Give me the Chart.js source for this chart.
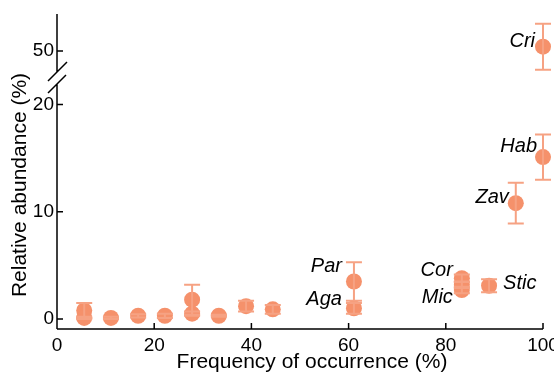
<!DOCTYPE html>
<html>
<head>
<meta charset="utf-8">
<script src="https://cdn.jsdelivr.net/npm/chart.js@4.4.1/dist/chart.umd.min.js"></script>
<style>
  html, body { margin: 0; padding: 0; background: #fff; }
  #wrap { width: 554px; height: 373px; }
</style>
</head>
<body>
<div id="wrap"><canvas id="chartCanvas"></canvas></div>
<script>
// Frequency of occurrence (%) and relative abundance (%) of each taxon
const frequency    = [5.6, 5.6, 11.1, 16.7, 22.2, 27.8, 27.8, 33.3, 38.9, 44.4, 61.1, 61.1, 83.3, 83.3, 83.3, 88.9, 94.4, 100];
const abundance    = [0.8, 0.1, 0.1, 0.3, 0.3, 1.8, 0.5, 0.3, 1.2, 0.9, 3.5, 1.0, 3.8, 3.2, 2.7, 3.1, 10.8, 15.1];
const abundanceErr = [0.7, 0.1, 0.1, 0.15, 0.2, 1.4, 0.2, 0.1, 0.5, 0.4, 1.8, 0.5, 0.35, 0.3, 0.3, 0.6, 1.9, 2.1];
const taxonNames   = ['', '', '', '', '', '', '', '', '', '', 'Par', 'Aga', 'Cor', '', 'Mic', 'Stic', 'Zav', 'Hab'];

// taxa above the axis break
const highFrequency = [100];
const highAbundance = [50.4];
const highErr       = [2.15];
const highNames     = ['Cri'];

const xTicks     = [0, 20, 40, 60, 80, 100];
const yTicksLow  = [0, 10, 20];
const yTicksHigh = [50];

const pointColor = '#f5916b';
const errColor = '#f6a283';
const tickFont = { family: "'Liberation Sans', Arial, sans-serif", size: 19 };

// where each label sits relative to its point
const labelPlace = {
  Par:  { dx: -12, dy: -9,  align: 'right' },
  Aga:  { dx: -12, dy: -3,  align: 'right' },
  Cor:  { dx: -9,  dy: -2,  align: 'right' },
  Mic:  { dx: -9,  dy: 13,  align: 'right' },
  Stic: { dx: 14,  dy: 3,   align: 'left' },
  Zav:  { dx: -7,  dy: 0,   align: 'right' },
  Hab:  { dx: -6,  dy: -5,  align: 'right' },
  Cri:  { dx: -8,  dy: 0,   align: 'right' }
};

function toPoints(xs, ys) {
  return xs.map((x, i) => ({ x: x, y: ys[i] }));
}

// error bars and taxon labels
const errorBars = {
  id: 'errorBars',
  afterDatasetsDraw(chart) {
    const ctx = chart.ctx;
    chart.data.datasets.forEach((ds, di) => {
      const meta = chart.getDatasetMeta(di);
      const yScale = chart.scales[ds.yAxisID];
      ctx.save();
      ctx.strokeStyle = errColor;
      ctx.lineWidth = 2;
      meta.data.forEach((el, i) => {
        const v = ds.data[i].y;
        const e = ds.errors[i];
        const top = yScale.getPixelForValue(v + e);
        const bot = yScale.getPixelForValue(v - e);
        ctx.beginPath();
        ctx.moveTo(el.x, top); ctx.lineTo(el.x, bot);
        ctx.moveTo(el.x - 8, top); ctx.lineTo(el.x + 8, top);
        ctx.moveTo(el.x - 8, bot); ctx.lineTo(el.x + 8, bot);
        ctx.stroke();
      });
      ctx.fillStyle = '#000';
      ctx.font = "italic 20px 'Liberation Sans', Arial, sans-serif";
      ctx.textBaseline = 'alphabetic';
      meta.data.forEach((el, i) => {
        const name = ds.names[i];
        if (!name) return;
        const p = labelPlace[name];
        ctx.textAlign = p.align;
        ctx.fillText(name, el.x + p.dx, el.y + p.dy);
      });
      ctx.restore();
    });
  }
};

// axis lines with the break, inward ticks and axis titles
const brokenAxes = {
  id: 'brokenAxes',
  afterDraw(chart) {
    const ctx = chart.ctx;
    const area = chart.chartArea;
    const L = area.left;
    const B = chart.scales.y2.bottom;
    ctx.save();
    ctx.strokeStyle = '#000';
    ctx.lineWidth = 1.5;
    ctx.beginPath();
    ctx.moveTo(L, area.top); ctx.lineTo(L, B - 6);
    ctx.moveTo(L, B + 6); ctx.lineTo(L, area.bottom);
    ctx.moveTo(L, area.bottom); ctx.lineTo(area.right, area.bottom);
    // break marks
    ctx.moveTo(L - 9, B + 3); ctx.lineTo(L + 10, B - 16);
    ctx.moveTo(L - 9, B + 15); ctx.lineTo(L + 9, B - 3);
    // ticks
    chart.scales.x.ticks.forEach(t => {
      const px = chart.scales.x.getPixelForValue(t.value);
      ctx.moveTo(px, area.bottom); ctx.lineTo(px, area.bottom - 6);
    });
    ['y', 'y2'].forEach(id => {
      chart.scales[id].ticks.forEach(t => {
        const py = chart.scales[id].getPixelForValue(t.value);
        ctx.moveTo(L, py); ctx.lineTo(L + 6, py);
      });
    });
    ctx.stroke();

    ctx.fillStyle = '#000';
    ctx.font = "21px 'Liberation Sans', Arial, sans-serif";
    ctx.textAlign = 'center';
    ctx.textBaseline = 'middle';
    ctx.fillText('Frequency of occurrence (%)', 312, 362);
    ctx.translate(20, 185);
    ctx.rotate(-Math.PI / 2);
    ctx.fillText('Relative abundance (%)', 0, 0);
    ctx.restore();
  }
};

function renderChart() {
  const ctx = document.getElementById('chartCanvas').getContext('2d');
  new Chart(ctx, {
    type: 'scatter',
    data: {
      datasets: [{
        data: toPoints(frequency, abundance),
        errors: abundanceErr,
        names: taxonNames,
        yAxisID: 'y',
        backgroundColor: pointColor,
        borderWidth: 0,
        pointRadius: 8,
        clip: false
      }, {
        data: toPoints(highFrequency, highAbundance),
        errors: highErr,
        names: highNames,
        yAxisID: 'y2',
        backgroundColor: pointColor,
        borderWidth: 0,
        pointRadius: 8,
        clip: false
      }]
    },
    options: {
      responsive: true,
      maintainAspectRatio: false,
      animation: false,
      layout: { padding: { top: 14, right: 11, left: 0, bottom: 0 } },
      plugins: { legend: { display: false }, tooltip: { enabled: false } },
      scales: {
        x: {
          type: 'linear', min: 0, max: 100,
          grid: { display: false, drawTicks: false }, border: { display: false },
          ticks: { font: tickFont, color: '#000', padding: 5, maxRotation: 0 },
          afterBuildTicks: s => { s.ticks = xTicks.map(v => ({ value: v })); },
          afterFit: s => { s.height = 44; s.paddingLeft = 0; s.paddingRight = 0; }
        },
        y: {
          type: 'linear', position: 'left', stack: 'abund', stackWeight: 251, weight: 0,
          min: -0.933, max: 22.48,
          grid: { display: false, drawTicks: false }, border: { display: false },
          ticks: { font: tickFont, color: '#000', padding: 3 },
          afterBuildTicks: s => { s.ticks = yTicksLow.map(v => ({ value: v })); },
          afterFit: s => { s.width = 57; s.paddingTop = 0; s.paddingBottom = 0; }
        },
        y2: {
          type: 'linear', position: 'left', stack: 'abund', stackWeight: 64, weight: 1,
          min: 47.48, max: 53.45,
          grid: { display: false, drawTicks: false }, border: { display: false },
          ticks: { font: tickFont, color: '#000', padding: 3 },
          afterBuildTicks: s => { s.ticks = yTicksHigh.map(v => ({ value: v })); },
          afterFit: s => { s.width = 57; s.paddingTop = 0; s.paddingBottom = 0; }
        }
      }
    },
    plugins: [errorBars, brokenAxes]
  });
}

window.onload = renderChart;
</script>
</body>
</html>
